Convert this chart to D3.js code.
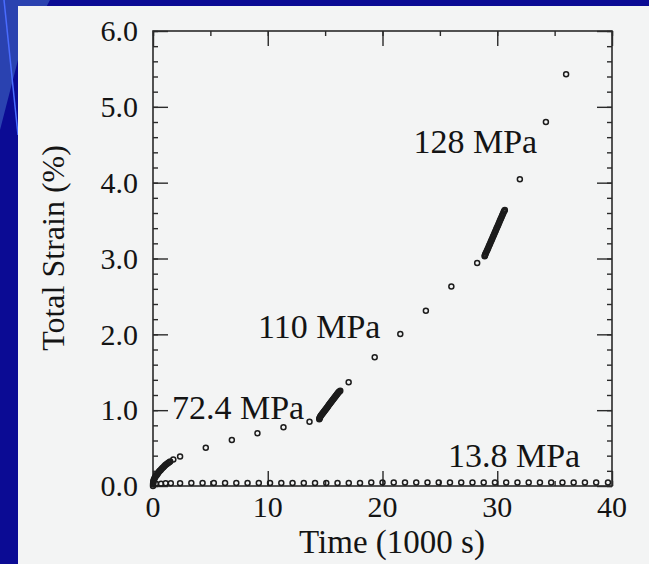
<!DOCTYPE html>
<html><head><meta charset="utf-8">
<script src="https://cdn.jsdelivr.net/npm/d3@7"></script>
<style>html,body{margin:0;padding:0;background:#0b0b94;}svg{display:block}</style>
</head><body>
<script>
// ---- data (time in 1000 s, total strain in %) ----
const xTicks = [0, 10, 20, 30, 40];
const yTicks = [0, 1, 2, 3, 4, 5, 6];
const yTickLabels = ["0.0", "1.0", "2.0", "3.0", "4.0", "5.0", "6.0"];

// 72.4 MPa step
const t724 = [0.00,0.005,0.01,0.02,0.04,0.07,0.10,0.14,0.18,0.23,0.28,0.34,0.40,0.46,0.53,0.60,0.67,0.74,0.82,0.90,0.98,1.06,1.14,1.23,1.32,1.41,1.50,1.77,2.36,4.60,6.87,9.10,11.37,13.64];
const s724 = [0.00,0.02,0.035,0.05,0.065,0.08,0.09,0.105,0.115,0.13,0.14,0.15,0.163,0.175,0.19,0.20,0.212,0.224,0.236,0.248,0.26,0.272,0.283,0.293,0.303,0.313,0.322,0.35,0.39,0.505,0.607,0.695,0.774,0.848];
// 110 MPa step
const t110 = [14.49,14.51,14.53,14.56,14.60,14.64,14.69,14.74,14.79,14.84,14.89,14.94,14.99,15.04,15.09,15.14,15.19,15.24,15.29,15.34,15.39,15.44,15.49,15.54,15.59,15.64,15.69,15.74,15.79,15.84,15.89,15.94,15.99,16.04,16.09,16.14,16.19,16.25,16.32,17.05,19.32,21.55,23.78,26.0,28.25];
const s110 = [0.880,0.890,0.900,0.910,0.920,0.930,0.940,0.950,0.960,0.970,0.980,0.990,1.000,1.010,1.020,1.030,1.040,1.050,1.060,1.070,1.080,1.090,1.100,1.110,1.120,1.130,1.140,1.150,1.160,1.170,1.180,1.190,1.200,1.210,1.220,1.230,1.238,1.246,1.255,1.368,1.697,2.005,2.31,2.63,2.94];
// 128 MPa step
const t128 = [28.90,28.92,28.95,28.98,29.02,29.07,29.12,29.17,29.22,29.27,29.32,29.37,29.42,29.47,29.52,29.57,29.62,29.67,29.72,29.77,29.82,29.87,29.92,29.97,30.02,30.07,30.12,30.17,30.22,30.27,30.32,30.37,30.42,30.47,30.52,30.57,30.62,30.66,31.97,34.24,36.00];
const s128 = [3.030,3.040,3.050,3.062,3.075,3.092,3.109,3.126,3.143,3.160,3.178,3.195,3.213,3.230,3.248,3.265,3.283,3.300,3.318,3.335,3.353,3.370,3.388,3.405,3.423,3.440,3.458,3.475,3.493,3.510,3.528,3.545,3.563,3.580,3.598,3.615,3.630,3.640,4.045,4.80,5.43];
// 13.8 MPa test
const t138 = [0.25,0.70,1.10,1.55,2.36,3.34,4.32,5.30,6.28,7.26,8.24,9.22,10.2,11.18,12.16,13.14,14.12,15.10,16.08,17.06,18.04,19.02,20.0,20.98,21.96,22.94,23.92,24.90,25.88,26.86,27.84,28.82,29.8,30.78,31.76,32.74,33.72,34.70,35.68,36.66,37.64,38.62,39.65];
const s138 = [0.03,0.03,0.035,0.035,0.035,0.04,0.04,0.04,0.04,0.04,0.04,0.04,0.04,0.04,0.04,0.04,0.04,0.04,0.04,0.04,0.04,0.045,0.045,0.045,0.045,0.045,0.045,0.045,0.045,0.045,0.045,0.045,0.045,0.045,0.045,0.045,0.045,0.045,0.045,0.045,0.045,0.045,0.045];

const labels = [
  {text: "128 MPa", t: 22.7, s: 4.39},
  {text: "110 MPa", t: 9.15, s: 1.95},
  {text: "72.4 MPa", t: 1.65, s: 0.89},
  {text: "13.8 MPa", t: 25.7, s: 0.25}
];

// ---- layout ----
const W = 649, H = 564;
const m = {left: 153, right: 37, top: 31, bottom: 78};
const x = d3.scaleLinear().domain([0, 40]).range([m.left, W - m.right]);
const y = d3.scaleLinear().domain([0, 6]).range([H - m.bottom, m.top]);

const svg = d3.select("body").append("svg").attr("width", W).attr("height", H);

// slide background
svg.append("rect").attr("width", W).attr("height", H).attr("fill", "#0b0b94");
svg.append("polygon").attr("points", "0,0 50,0 18,60 0,130").attr("fill", "#2a42b0");
svg.append("line").attr("x1", 4).attr("y1", 0).attr("x2", 18).attr("y2", 135)
  .attr("stroke", "#4a6cff").attr("stroke-width", 1.5);
svg.append("rect").attr("x", 18).attr("y", 6).attr("width", W - 18).attr("height", H - 6).attr("fill", "#f3f4f4");

const font = "'Liberation Serif', 'Times New Roman', serif";
const ink = "#141414";
const g = svg.append("g");

// frame
g.append("rect").attr("x", x(0)).attr("y", y(6)).attr("width", x(40) - x(0)).attr("height", y(0) - y(6))
  .attr("fill", "none").attr("stroke", "#2a2a2a").attr("stroke-width", 1.6);

// axes (inward ticks)
const minorY = d3.range(0, 6.01, 0.2).map(v => +v.toFixed(1));
const minorX = d3.range(0, 40.1, 5);
function addAxis(axis, tx, ty) {
  const a = g.append("g").attr("transform", `translate(${tx},${ty})`).call(axis);
  a.select(".domain").remove();
  a.selectAll("line").attr("stroke", "#2a2a2a").attr("stroke-width", 1.4);
  a.selectAll("text").remove();
  return a;
}
addAxis(d3.axisLeft(y).tickValues(minorY).tickSize(-5), x(0), 0);
addAxis(d3.axisLeft(y).tickValues(yTicks).tickSize(-15), x(0), 0);
addAxis(d3.axisRight(y).tickValues(minorY).tickSize(-5), x(40), 0);
addAxis(d3.axisRight(y).tickValues(yTicks).tickSize(-15), x(40), 0);
addAxis(d3.axisBottom(x).tickValues(minorX).tickSize(-5), 0, y(0));
addAxis(d3.axisBottom(x).tickValues(xTicks).tickSize(-15), 0, y(0));
addAxis(d3.axisTop(x).tickValues(minorX).tickSize(-5), 0, y(6));
addAxis(d3.axisTop(x).tickValues(xTicks).tickSize(-15), 0, y(6));

// tick labels
g.selectAll(".yl").data(yTicks).enter().append("text")
  .attr("x", x(0) - 15).attr("y", d => y(d)).attr("dy", "0.34em")
  .attr("text-anchor", "end").attr("font-family", font).attr("font-size", 30).attr("fill", ink)
  .text((d, i) => yTickLabels[i]);
g.selectAll(".xl").data(xTicks).enter().append("text")
  .attr("x", d => x(d)).attr("y", y(0) + 31)
  .attr("text-anchor", "middle").attr("font-family", font).attr("font-size", 30).attr("fill", ink)
  .text(d => d);

// axis titles
g.append("text").attr("x", 392).attr("y", 553).attr("text-anchor", "middle")
  .attr("font-family", font).attr("font-size", 33).attr("fill", ink).text("Time (1000 s)");
g.append("text").attr("transform", "translate(64,248) rotate(-90)").attr("text-anchor", "middle")
  .attr("font-family", font).attr("font-size", 32).attr("fill", ink).text("Total Strain (%)");

// data points
const series = [[t724, s724], [t110, s110], [t128, s128], [t138, s138]];
series.forEach(([ts, ss]) => {
  g.append("g").selectAll("circle").data(ts).enter().append("circle")
    .attr("cx", d => x(d)).attr("cy", (d, i) => y(ss[i])).attr("r", 2.5)
    .attr("fill", "none").attr("stroke", "#1c1c1c").attr("stroke-width", 1.5);
});

// stress labels
g.selectAll(".lab").data(labels).enter().append("text")
  .attr("x", d => x(d.t)).attr("y", d => y(d.s))
  .attr("font-family", font).attr("font-size", 34).attr("fill", ink)
  .text(d => d.text);
</script>
</body></html>
